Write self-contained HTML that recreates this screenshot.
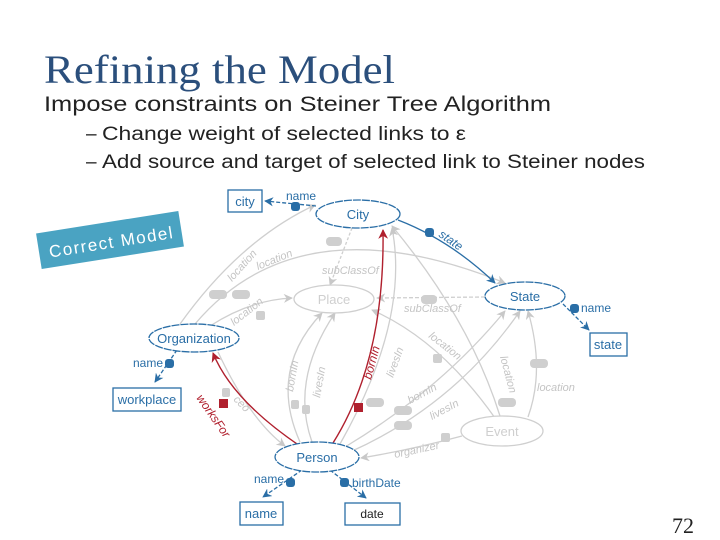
<!DOCTYPE html>
<html><head><meta charset="utf-8"><style>
html,body{margin:0;padding:0;background:#fff;width:720px;height:540px;overflow:hidden}
svg{display:block}
</style></head><body>
<svg width="720" height="540" viewBox="0 0 720 540" xmlns="http://www.w3.org/2000/svg" font-family="Liberation Sans, sans-serif">
<defs>
<marker id="ab" viewBox="0 0 10 10" refX="9" refY="5" markerWidth="7" markerHeight="7" orient="auto"><path d="M0,0L10,5L0,10L3,5z" fill="#2a6ea6"/></marker>
<marker id="ar" viewBox="0 0 10 10" refX="9" refY="5" markerWidth="7" markerHeight="7" orient="auto"><path d="M0,0L10,5L0,10L3,5z" fill="#b0202e"/></marker>
<marker id="ag" viewBox="0 0 10 10" refX="9" refY="5" markerWidth="7" markerHeight="7" orient="auto"><path d="M0,0L10,5L0,10L3,5z" fill="#c8c8c8"/></marker>
</defs>
<text x="44" y="83" font-family="Liberation Serif, serif" font-size="40" fill="#2b4f7c" textLength="351" lengthAdjust="spacingAndGlyphs">Refining the Model</text>
<text x="44" y="111" font-size="21" fill="#222" textLength="507" lengthAdjust="spacingAndGlyphs">Impose constraints on Steiner Tree Algorithm</text>
<text x="86" y="140" font-size="19" fill="#222">–</text>
<text x="102" y="140" font-size="19" fill="#222" textLength="364" lengthAdjust="spacingAndGlyphs">Change weight of selected links to ε</text>
<text x="86" y="168" font-size="19" fill="#222">–</text>
<text x="102" y="168" font-size="19" fill="#222" textLength="543" lengthAdjust="spacingAndGlyphs">Add source and target of selected link to Steiner nodes</text>

<g transform="rotate(-9 110 240)">
<rect x="38" y="222" width="144" height="36" fill="#4aa3c2"/>
<text x="48" y="248" font-size="17" fill="#fff" letter-spacing="1.5">Correct Model</text>
</g>

<g fill="none" stroke="#cfcfcf" stroke-width="1.3">
<path d="M180,324 Q240,240 315,205" marker-end="url(#ag)"/>
<path d="M195,324 Q300,200 505,283" marker-end="url(#ag)"/>
<path d="M210,326 Q250,300 292,298" marker-end="url(#ag)"/>
<path d="M300,442 Q268,370 322,313" marker-end="url(#ag)"/>
<path d="M312,442 Q290,380 335,313" marker-end="url(#ag)"/>
<path d="M340,444 Q410,320 392,228" marker-end="url(#ag)"/>
<path d="M345,447 Q440,390 505,311" marker-end="url(#ag)"/>
<path d="M350,452 Q455,405 520,311" marker-end="url(#ag)"/>
<path d="M218,352 Q250,420 285,446" marker-end="url(#ag)"/>
<path d="M462,436 Q410,450 361,458" marker-end="url(#ag)"/>
<path d="M528,417 Q545,370 528,311" marker-end="url(#ag)"/>
<path d="M500,416 Q470,320 392,226" marker-end="url(#ag)"/>
<path d="M495,418 Q440,340 372,310" marker-end="url(#ag)"/>
<path d="M352,228 L330,285" stroke-dasharray="3,2" marker-end="url(#ag)"/>
<path d="M485,297 L377,298" stroke-dasharray="4,2" marker-end="url(#ag)"/>
</g>
<g font-size="11" fill="#c4c4c4" font-style="italic">
<text transform="translate(232,282) rotate(-48)">location</text>
<text transform="translate(258,270) rotate(-22)">location</text>
<text transform="translate(234,326) rotate(-38)">location</text>
<text x="322" y="274">subClassOf</text>
<text x="404" y="312">subClassOf</text>
<text transform="translate(293,392) rotate(-80)">bornIn</text>
<text transform="translate(320,398) rotate(-80)">livesIn</text>
<text transform="translate(393,378) rotate(-70)">livesIn</text>
<text transform="translate(428,337) rotate(38)">location</text>
<text transform="translate(410,404) rotate(-28)">bornIn</text>
<text transform="translate(432,420) rotate(-28)">livesIn</text>
<text transform="translate(500,357) rotate(75)">location</text>
<text x="537" y="391">location</text>
<text transform="translate(395,458) rotate(-12)">organizer</text>
<text transform="translate(233,400) rotate(45)">ceo</text>
</g>
<g fill="#cfcfcf">
<rect x="326" y="237" width="16" height="9" rx="4"/>
<rect x="209" y="290" width="18" height="9" rx="4"/>
<rect x="232" y="290" width="18" height="9" rx="4"/>
<rect x="256" y="311" width="9" height="9" rx="2"/>
<rect x="421" y="295" width="16" height="9" rx="4"/>
<rect x="433" y="354" width="9" height="9" rx="2"/>
<rect x="530" y="359" width="18" height="9" rx="4"/>
<rect x="498" y="398" width="18" height="9" rx="4"/>
<rect x="366" y="398" width="18" height="9" rx="4"/>
<rect x="394" y="406" width="18" height="9" rx="4"/>
<rect x="394" y="421" width="18" height="9" rx="4"/>
<rect x="441" y="433" width="9" height="9" rx="2"/>
<rect x="222" y="388" width="8" height="9" rx="2"/>
<rect x="291" y="400" width="8" height="9" rx="2"/>
<rect x="302" y="405" width="8" height="9" rx="2"/>
</g>

<g fill="none" stroke="#b0202e" stroke-width="1.4">
<path d="M300,446 Q232,400 213,353" marker-end="url(#ar)"/>
<path d="M333,443 Q385,360 383,230" marker-end="url(#ar)"/>
</g>
<rect x="219" y="399" width="9" height="9" fill="#b0202e"/>
<rect x="354" y="403" width="9" height="9" fill="#b0202e"/>
<text transform="translate(196,398) rotate(55)" font-size="12" fill="#b0202e" font-style="italic">worksFor</text>
<text transform="translate(371,380) rotate(-75)" font-size="12" fill="#b0202e" font-style="italic">bornIn</text>

<g fill="none" stroke="#2a6ea6" stroke-width="1.3">
<path d="M316,206 L265,201" stroke-dasharray="4,2" marker-end="url(#ab)"/>
<path d="M398,220 Q450,240 495,283" marker-end="url(#ab)"/>
<path d="M563,304 L589,330" stroke-dasharray="4,2" marker-end="url(#ab)"/>
<path d="M177,350 L155,382" stroke-dasharray="4,2" marker-end="url(#ab)"/>
<path d="M302,470 L263,497" stroke-dasharray="4,2" marker-end="url(#ab)"/>
<path d="M330,470 L366,498" stroke-dasharray="4,2" marker-end="url(#ab)"/>
</g>
<g fill="#2a6ea6">
<rect x="291" y="202" width="9" height="9" rx="3"/>
<rect x="425" y="228" width="9" height="9" rx="3"/>
<rect x="570" y="304" width="9" height="9" rx="3"/>
<rect x="165" y="359" width="9" height="9" rx="3"/>
<rect x="286" y="478" width="9" height="9" rx="3"/>
<rect x="340" y="478" width="9" height="9" rx="3"/>
</g>
<g font-size="12" fill="#2a6ea6">
<text x="286" y="200">name</text>
<text transform="translate(438,236) rotate(35)" font-style="italic">state</text>
<text x="581" y="312">name</text>
<text x="133" y="367">name</text>
<text x="254" y="483">name</text>
<text x="352" y="487">birthDate</text>
</g>

<g fill="#fff" stroke="#2a6ea6" stroke-width="1.3" stroke-dasharray="8,1">
<ellipse cx="358" cy="214" rx="42" ry="14"/>
<ellipse cx="525" cy="296" rx="40" ry="14"/>
<ellipse cx="194" cy="338" rx="45" ry="14"/>
<ellipse cx="317" cy="457" rx="42" ry="15"/>
</g>
<g fill="#fff" stroke="#cfcfcf" stroke-width="1.3">
<ellipse cx="334" cy="299" rx="40" ry="14"/>
<ellipse cx="502" cy="431" rx="41" ry="15"/>
</g>
<g fill="#fff" stroke="#2a6ea6" stroke-width="1.3">
<rect x="228" y="190" width="34" height="22"/>
<rect x="590" y="333" width="37" height="23"/>
<rect x="113" y="388" width="68" height="23"/>
<rect x="240" y="502" width="43" height="23"/>
<rect x="345" y="503" width="55" height="22"/>
</g>
<g font-size="13" fill="#2a6ea6" text-anchor="middle">
<text x="358" y="219">City</text>
<text x="525" y="301">State</text>
<text x="194" y="343">Organization</text>
<text x="317" y="462">Person</text>
<text x="245" y="206">city</text>
<text x="608" y="349">state</text>
<text x="147" y="404">workplace</text>
<text x="261" y="518">name</text>
</g>
<text x="372" y="518" font-size="12" fill="#222" text-anchor="middle">date</text>
<g font-size="13" fill="#cfcfcf" text-anchor="middle">
<text x="334" y="304">Place</text>
<text x="502" y="436">Event</text>
</g>
<text x="672" y="533" font-family="Liberation Serif, serif" font-size="22" fill="#222">72</text>
</svg>
</body></html>
